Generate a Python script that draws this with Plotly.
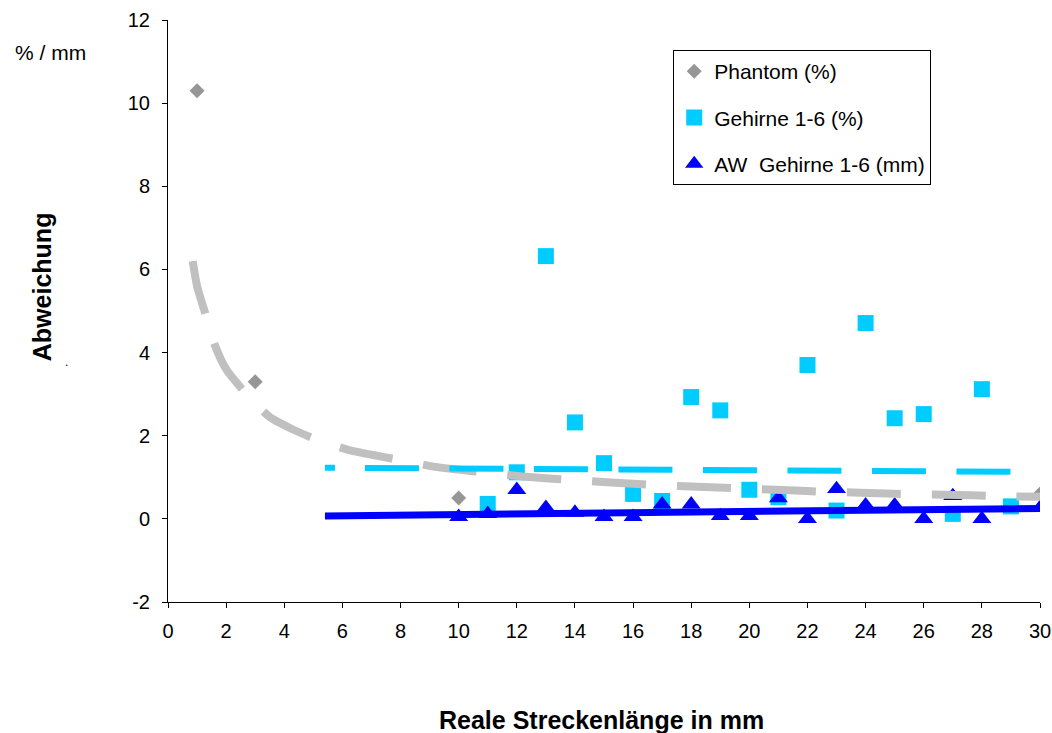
import plotly.graph_objects as go

# ---------------- data ----------------
phantom_x = [1, 3, 10, 30]
phantom_y = [10.3, 3.3, 0.5, 0.6]

gehirne_x = [11, 12, 13, 14, 15, 16, 17, 18, 19, 20, 21, 22, 23, 24, 25, 26, 27, 28, 29]
gehirne_y = [0.36, 1.12, 6.32, 2.32, 1.34, 0.6, 0.43, 2.93, 2.61, 0.7, 0.52, 3.7, 0.2, 4.71, 2.42, 2.52, 0.12, 3.12, 0.3]

aw_x = [10, 11, 12, 13, 14, 15, 16, 17, 18, 19, 20, 21, 22, 23, 24, 25, 26, 27, 28, 30]
aw_y = [0.05, 0.12, 0.7, 0.27, 0.15, 0.05, 0.05, 0.35, 0.35, 0.07, 0.07, 0.5, 0.0, 0.72, 0.33, 0.33, 0.0, 0.55, 0.0, 0.27]

# trend lines
phantom_trend_x = [0.85, 1.0, 1.3, 1.6, 2.0, 2.7, 3.5, 4.3, 5.2, 6.3, 8.1, 9.2, 11.1, 12.2, 14.0,
                   15.1, 16.9, 18.0, 19.8, 20.9, 22.7, 23.8, 25.6, 26.7, 28.5, 30.0]
phantom_trend_y = [6.2, 5.6, 4.9, 4.2, 3.6, 3.0, 2.45, 2.15, 1.88, 1.64, 1.40, 1.25, 1.10, 1.02, 0.93,
                   0.88, 0.81, 0.78, 0.73, 0.70, 0.65, 0.63, 0.59, 0.58, 0.55, 0.53]
gehirne_trend_x = [5.4, 30]
gehirne_trend_y = [1.23, 1.13]
aw_trend_x = [5.4, 30]
aw_trend_y = [0.07, 0.25]

x_ticks = list(range(0, 31, 2))
y_ticks = [-2, 0, 2, 4, 6, 8, 10, 12]
y_ticktext = [str(v) for v in y_ticks]

names = ["Phantom (%)", "Gehirne 1-6 (%)", "AW\u00a0 Gehirne 1-6 (mm)"]

# ---------------- layout geometry ----------------
W, H = 1052, 733
L, R, T, B = 167.5, 12, 20, 131.3
PW, PH = W - L - R, H - T - B
FONT = "Arial, Liberation Sans, sans-serif"


def px2paper(px, py):
    return (px - L) / PW, 1 - (py - T) / PH


fig = go.Figure()

fig.add_trace(go.Scatter(x=phantom_x, y=phantom_y, mode="markers", name=names[0],
                         legendgroup="a",
                         marker=dict(symbol="diamond", size=11.5, color="#969696")))
fig.add_trace(go.Scatter(x=gehirne_x, y=gehirne_y, mode="markers", name=names[1],
                         legendgroup="b",
                         marker=dict(symbol="square", size=16, color="#00CCFF")))
fig.add_trace(go.Scatter(x=aw_x, y=aw_y, mode="markers", name=names[2],
                         legendgroup="c",
                         marker=dict(symbol="triangle-up", size=16.5, color="#0000FF")))

cyan_dash = "10px,30px" + ",54px,30.5px" * 10
fig.add_trace(go.Scatter(x=phantom_trend_x, y=phantom_trend_y, mode="lines", showlegend=False,
                         line=dict(color="#C0C0C0", width=8, dash="54px,31px", shape="spline",
                                   smoothing=0.6), hoverinfo="skip"))
fig.add_trace(go.Scatter(x=gehirne_trend_x, y=gehirne_trend_y, mode="lines", showlegend=False,
                         line=dict(color="#00CCFF", width=6, dash=cyan_dash), hoverinfo="skip"))
fig.add_trace(go.Scatter(x=aw_trend_x, y=aw_trend_y, mode="lines", showlegend=False,
                         line=dict(color="#0000FF", width=7), hoverinfo="skip"))

axis_common = dict(showgrid=False, zeroline=False, showline=True, linecolor="black", linewidth=1,
                   ticks="outside", ticklen=5, tickcolor="black", tickwidth=1,
                   tickfont=dict(family=FONT, size=20, color="black"))

fig.update_xaxes(range=[0, 30], tickvals=x_ticks, ticktext=[str(v) for v in x_ticks],
                 ticklabelstandoff=6, automargin=False, **axis_common)
fig.update_yaxes(range=[-2, 12], tickvals=y_ticks, ticktext=y_ticktext,
                 ticklabelstandoff=8, automargin=False, **axis_common)

annotations = []
ax, ay = px2paper(12, 52)
annotations.append(dict(text="% / mm", x=ax, y=ay, xref="paper", yref="paper", xanchor="left",
                        yanchor="middle", showarrow=False,
                        font=dict(family=FONT, size=21, color="black")))
ax, ay = px2paper(41, 286.5)
annotations.append(dict(text="<b>Abweichung</b>", x=ax, y=ay, xref="paper", yref="paper",
                        xanchor="center", yanchor="middle", textangle=-90, showarrow=False,
                        font=dict(family=FONT, size=25, color="black")))
ax, ay = px2paper(66, 362)
annotations.append(dict(text=".", x=ax, y=ay, xref="paper", yref="paper", xanchor="center",
                        yanchor="middle", showarrow=False,
                        font=dict(family=FONT, size=12, color="black")))
ax, ay = px2paper(601.5, 720)
annotations.append(dict(text="<b>Reale Streckenlänge in mm</b>", x=ax, y=ay, xref="paper",
                        yref="paper", xanchor="center", yanchor="middle", showarrow=False,
                        font=dict(family=FONT, size=25, color="black")))

lx, ly = px2paper(673, 50)
fig.update_layout(
    width=W, height=H, autosize=False,
    margin=dict(l=L, r=R, t=T, b=B, pad=0, autoexpand=False),
    paper_bgcolor="white", plot_bgcolor="white",
    showlegend=True,
    legend=dict(x=lx, y=ly, xanchor="left", yanchor="top", bordercolor="black", borderwidth=1,
                bgcolor="white", traceorder="grouped", tracegroupgap=16,
                font=dict(family=FONT, size=21, color="black")),
    annotations=annotations,
)

fig.write_html("out.html", config={"displayModeBar": False},
               post_script="document.body.style.margin='0';document.body.style.overflow='hidden';")
